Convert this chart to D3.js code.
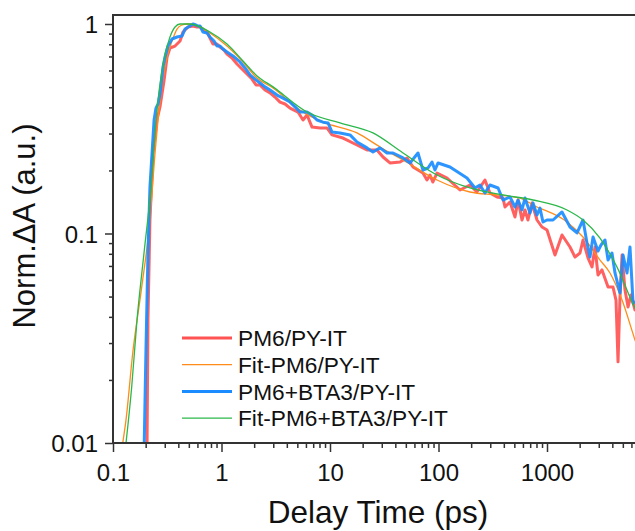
<!DOCTYPE html>
<html>
<head>
<meta charset="utf-8">
<title>Norm dA decay</title>
<script src="https://d3js.org/d3.v7.min.js"></script>
<style>
  body { margin: 0; background: #fff; }
  text { font-family: "Liberation Sans", Arial, sans-serif; fill: #111; }
</style>
</head>
<body>
<svg id="chart" width="635" height="531"></svg>
<script>
// delay time (ps) / normalised dA
var pm6Time = [0.203,0.206,0.210,0.219,0.234,0.254,0.271,0.295,0.315,0.335,0.373,0.415,0.442,0.491,0.546,0.594,0.634,0.690,0.736,0.783,0.835,0.909,0.969,1.054,1.124,1.250,1.39,1.545,1.718,1.91,2.08,2.264,2.518,2.80,3.11,3.46,3.85,4.28,4.66,5.07,5.64,6.14,6.83,8.09,9.38,10.43,13.18,17.74,21.9,27.1,30.8,35.7,44.2,51.3,58.2,71.9,78.3,83.5,88.6,96.9,119.8,157.8,195,226,268,298,346,393,410,456,507,541,588,627,668,727,809,899,1000,1185,1375,1629,1811,2014,2147,2391,2598,2770,2951,3213,3653,4060,4325,4514,4708,4918,5234,5585,5942,6472,7194];
var pm6Val  = [0.006,0.010,0.0386,0.116,0.242,0.348,0.402,0.534,0.696,0.768,0.785,0.830,0.916,0.968,0.978,0.968,0.968,0.936,0.916,0.857,0.803,0.803,0.777,0.751,0.719,0.688,0.644,0.610,0.577,0.546,0.512,0.512,0.484,0.469,0.448,0.424,0.415,0.397,0.388,0.380,0.348,0.368,0.322,0.319,0.319,0.2955,0.2855,0.2645,0.2504,0.2504,0.2318,0.2171,0.2195,0.2294,0.2077,0.1944,0.180,0.1902,0.176,0.1944,0.184,0.1613,0.1704,0.1578,0.180,0.1561,0.1494,0.1477,0.1338,0.1414,0.1199,0.1445,0.116,0.1295,0.116,0.1398,0.116,0.1074,0.1039,0.0789,0.0984,0.0862,0.0772,0.0807,0.0931,0.0763,0.0692,0.0862,0.0634,0.0670,0.0555,0.0555,0.0481,0.0244,0.0498,0.0789,0.0537,0.0446,0.0509,0.0431,0.045];

var btaTime = [0.19,0.194,0.201,0.210,0.219,0.229,0.239,0.249,0.260,0.271,0.289,0.3015,0.321,0.350,0.389,0.432,0.461,0.5125,0.546,0.582,0.607,0.634,0.675,0.736,0.783,0.853,0.909,0.969,1.032,1.124,1.276,1.481,1.647,1.831,2.036,2.264,2.518,2.80,3.25,3.69,4.28,4.76,5.29,6.14,6.83,7.59,8.62,9.60,10.43,12.37,15.29,17.74,21.93,24.9,28.9,33.5,38.1,47.1,54.6,64.7,71.9,80.0,87.1,92.8,99.1,127.6,183,217,241,268,298,354,393,456,507,541,588,627,697,743,809,862,918,1000,1136,1375,1629,1890,2147,2337,2490,2657,2951,3146,3424,3653,3972,4233,4708,5022,5462,5821,6214,7194];
var btaVal  = [0.006,0.010,0.0269,0.0807,0.1667,0.2422,0.348,0.397,0.415,0.463,0.623,0.696,0.785,0.848,0.867,0.876,0.946,0.978,1.0,0.989,0.978,0.978,0.916,0.906,0.867,0.830,0.785,0.785,0.760,0.735,0.704,0.659,0.617,0.571,0.546,0.523,0.501,0.484,0.458,0.443,0.424,0.402,0.380,0.380,0.368,0.348,0.340,0.337,0.305,0.302,0.2955,0.2735,0.2562,0.245,0.2562,0.2422,0.2422,0.2294,0.2171,0.2422,0.201,0.2054,0.2195,0.201,0.2171,0.2077,0.184,0.1649,0.1704,0.1561,0.1704,0.1649,0.1445,0.1494,0.1338,0.1445,0.1295,0.1477,0.1253,0.1398,0.1226,0.1323,0.1135,0.116,0.116,0.1267,0.1074,0.1006,0.116,0.0901,0.0772,0.0962,0.0824,0.0881,0.0931,0.0747,0.0807,0.0648,0.0520,0.0789,0.0648,0.0862,0.0466,0.048];

var fitPm6Time = [0.1229,0.1318,0.152,0.1839,0.219,0.244,0.260,0.315,0.350,0.389,0.432,0.481,0.570,0.783,1.124,1.578,2.125,2.984,5.29,8.62,17.74,28.9,47.1,96.9,195,346,564,743,1529,2147,3080,3807,4918,6472,7194];
var fitPm6Val  = [0.010,0.0129,0.0269,0.0555,0.116,0.2422,0.348,0.696,0.830,0.946,0.989,1.0,0.989,0.906,0.785,0.659,0.552,0.495,0.388,0.340,0.302,0.2588,0.2243,0.180,0.1578,0.1527,0.1477,0.1368,0.1135,0.0962,0.0747,0.0648,0.0481,0.031,0.0263];

var fitBtaTime = [0.1318,0.1487,0.1664,0.1931,0.224,0.249,0.289,0.335,0.373,0.4145,0.5125,0.783,1.124,1.578,2.125,2.984,6.14,12.37,24.9,47.1,96.9,195,393,743,1529,2147,3080,4416,6472,7194];
var fitBtaVal  = [0.010,0.0185,0.0386,0.0807,0.1667,0.348,0.644,0.867,0.968,1.0,1.0,0.916,0.803,0.666,0.565,0.501,0.380,0.337,0.302,0.2422,0.1902,0.1649,0.1527,0.1445,0.1295,0.116,0.0951,0.0692,0.0441,0.040];

var seriesNames  = ["PM6/PY-IT", "Fit-PM6/PY-IT", "PM6+BTA3/PY-IT", "Fit-PM6+BTA3/PY-IT"];
var seriesColors = ["#ff5252", "#ff8c1a", "#1a8cff", "#2bb84a"];
var seriesWidths = [3, 1.3, 3, 1.3];

var xMajor = [0.1, 1, 10, 100, 1000];
var xMajorLabels = ["0.1", "1", "10", "100", "1000"];
var yMajor = [0.01, 0.1, 1];
var yMajorLabels = ["0.01", "0.1", "1"];

var svg = d3.select("#chart");

var plotLeft = 113, plotTop = 15, plotBottom = 443;
var x = d3.scaleLog().domain([0.1, 10000]).range([plotLeft, plotLeft + 5 * 108.5]);
var y = d3.scaleLog().domain([0.01, 1]).range([plotBottom, 24]);

function minorsOf(majors) {
    var out = [];
    majors.forEach(function(m) {
        for (var k = 2; k <= 9; k++) out.push(m * k);
    });
    return out;
}

svg.append("clipPath").attr("id", "plotclip")
    .append("rect").attr("x", plotLeft).attr("y", plotTop)
    .attr("width", 600).attr("height", plotBottom - plotTop);

var series = [
    {t: pm6Time, v: pm6Val, fit: false},
    {t: fitPm6Time, v: fitPm6Val, fit: true},
    {t: btaTime, v: btaVal, fit: false},
    {t: fitBtaTime, v: fitBtaVal, fit: true}
];

var g = svg.append("g").attr("clip-path", "url(#plotclip)");
series.forEach(function(s, i) {
    var pts = s.t.map(function(t, j) { return [t, s.v[j]]; });
    var line = d3.line()
        .x(function(d) { return x(d[0]); })
        .y(function(d) { return y(d[1]); })
        .curve(s.fit ? d3.curveMonotoneX : d3.curveLinear);
    g.append("path")
        .datum(pts)
        .attr("d", line)
        .attr("fill", "none")
        .attr("stroke", seriesColors[i])
        .attr("stroke-width", seriesWidths[i])
        .attr("stroke-linejoin", "round")
        .attr("opacity", s.fit ? 1 : 0.92);
});

// axes (minor and major ticks in separate groups)
var axisColor = "#333";
var fontFam = "'Liberation Sans', Arial, sans-serif";

svg.append("g").attr("transform", "translate(0," + plotBottom + ")")
    .call(d3.axisBottom(x).tickValues(minorsOf([0.1, 1, 10, 100, 1000])).tickSize(5).tickFormat(""));
var xAxisG = svg.append("g").attr("transform", "translate(0," + plotBottom + ")")
    .call(d3.axisBottom(x).tickValues(xMajor).tickSize(9)
        .tickFormat(function(d, i) { return xMajorLabels[i]; }));
xAxisG.selectAll("text").attr("font-size", 24).attr("dy", "1.1em").attr("fill", "#111")
    .style("font-family", fontFam);

svg.append("g").attr("transform", "translate(" + plotLeft + ",0)")
    .call(d3.axisLeft(y).tickValues(minorsOf([0.01, 0.1])).tickSize(4).tickFormat(""));
var yAxisG = svg.append("g").attr("transform", "translate(" + plotLeft + ",0)")
    .call(d3.axisLeft(y).tickValues(yMajor).tickSize(8)
        .tickFormat(function(d, i) { return yMajorLabels[i]; }));
yAxisG.selectAll("text").attr("font-size", 24).attr("x", -15).attr("dy", "0.36em").attr("fill", "#111")
    .style("font-family", fontFam);

svg.selectAll(".domain").remove();
svg.selectAll(".tick line").attr("stroke", axisColor).attr("stroke-width", 1.5);

// frame lines
svg.append("line").attr("x1", plotLeft).attr("x2", plotLeft).attr("y1", plotTop - 1).attr("y2", plotBottom + 1)
    .attr("stroke", axisColor).attr("stroke-width", 2);
svg.append("line").attr("x1", plotLeft - 1).attr("x2", 635).attr("y1", plotBottom).attr("y2", plotBottom)
    .attr("stroke", axisColor).attr("stroke-width", 2);
svg.append("line").attr("x1", plotLeft - 1).attr("x2", 635).attr("y1", plotTop).attr("y2", plotTop)
    .attr("stroke", axisColor).attr("stroke-width", 2);

// titles
svg.append("text").attr("x", 378).attr("y", 523).attr("text-anchor", "middle")
    .attr("font-size", 31.5).text("Delay Time (ps)");
svg.append("text").attr("transform", "translate(35,226) rotate(-90)").attr("text-anchor", "middle")
    .attr("font-size", 31).text("Norm.\u0394A (a.u.)");

// legend
var legend = svg.append("g").attr("transform", "translate(182,338)");
seriesNames.forEach(function(name, i) {
    var row = legend.append("g").attr("transform", "translate(0," + (i * 26.7) + ")");
    row.append("line").attr("x1", 0).attr("x2", 50).attr("y1", 0).attr("y2", 0)
        .attr("stroke", seriesColors[i]).attr("stroke-width", seriesWidths[i]);
    row.append("text").attr("x", 56).attr("y", 0).attr("dy", "0.36em")
        .attr("font-size", 22.7).text(name);
});
</script>
</body>
</html>
